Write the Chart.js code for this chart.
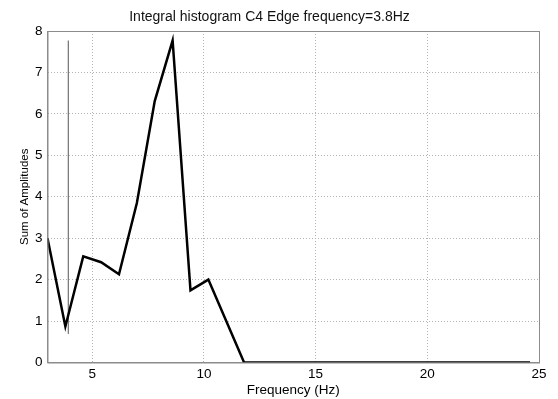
<!DOCTYPE html>
<html>
<head>
<meta charset="utf-8">
<script src="https://cdn.jsdelivr.net/npm/chart.js@4"></script>
<style>
  html, body { margin: 0; padding: 0; background: #fff; }
  #wrap { width: 558px; height: 399px; }
</style>
</head>
<body>
<div id="wrap"><canvas id="histChart" width="558" height="399"></canvas></div>
<script>
// Data
const freqs = [3.0, 3.8, 4.6, 5.4, 6.2, 7.0, 7.8, 8.6, 9.4, 10.2, 11.0, 11.8,
  12.6, 13.4, 14.2, 15.0, 15.8, 16.6, 17.4, 18.2, 19.0, 19.8, 20.6, 21.4, 22.2, 23.0, 23.8, 24.6];
const amplitudes = [3.0, 0.87, 2.56, 2.42, 2.13, 3.85, 6.31, 7.77, 1.74, 2.0, 1.0, 0,
  0, 0, 0, 0, 0, 0, 0, 0, 0, 0, 0, 0, 0, 0, 0, 0];
const edgeFreq = 3.93;
const edgeLow = 0.69;
const edgeHigh = 7.77;
const xTicks = [5, 10, 15, 20, 25];

const fontName = "'Liberation Sans', Arial, sans-serif";

// Draws the full box round the plot area (matlab style)
const boxPlugin = {
  id: 'box',
  afterDatasetsDraw(chart) {
    const a = chart.chartArea;
    const ctx = chart.ctx;
    ctx.save();
    ctx.strokeStyle = '#8c8c8c';
    ctx.lineWidth = 1;
    ctx.strokeRect(a.left + 0.5, a.top + 0.5, a.right - a.left, a.bottom - a.top);
    ctx.restore();
  }
};

const ctx = document.getElementById('histChart').getContext('2d');
const chart = new Chart(ctx, {
  type: 'line',
  data: {
    datasets: [
      {
        label: 'Sum of Amplitudes',
        data: freqs.map((f, i) => ({ x: f, y: amplitudes[i] })),
        borderColor: '#000',
        borderWidth: 2.5,
        pointRadius: 0,
        tension: 0,
        fill: false,
      },
      {
        label: 'Edge',
        data: [{ x: edgeFreq, y: edgeLow }, { x: edgeFreq, y: edgeHigh }],
        borderColor: '#555',
        borderWidth: 1,
        pointRadius: 0,
        fill: false,
      },
    ],
  },
  options: {
    responsive: false,
    animation: false,
    layout: { padding: { left: 0, right: 19, top: 0, bottom: 0 } },
    plugins: {
      legend: { display: false },
      tooltip: { enabled: false },
      title: {
        display: true,
        text: 'Integral histogram C4 Edge frequency=3.8Hz',
        color: '#111',
        font: { family: fontName, size: 14, weight: 'normal' },
        padding: { top: 8.5, bottom: 5.7 },
      },
    },
    scales: {
      x: {
        type: 'linear',
        min: 3,
        max: 25,
        afterBuildTicks: (axis) => { axis.ticks = xTicks.map((v) => ({ value: v })); },
        afterFit: (axis) => { axis.height = 36.5; },
        ticks: {
          color: '#000',
          font: { family: fontName, size: 13.5 },
          padding: 4,
          maxRotation: 0,
        },
        grid: {
          color: '#b4b4b4',
          lineWidth: 1,
          drawTicks: false,
        },
        // dotted grid lines
        border: { color: '#8c8c8c', dash: [1, 2] },
        title: {
          display: true,
          text: 'Frequency (Hz)',
          color: '#000',
          font: { family: fontName, size: 13.5 },
          padding: { top: 0, bottom: 1 },
        },
      },
      y: {
        min: 0,
        max: 8,
        afterFit: (axis) => { axis.width = 47.5; },
        ticks: {
          stepSize: 1,
          color: '#000',
          font: { family: fontName, size: 13.5 },
          padding: 5,
        },
        grid: {
          color: '#b4b4b4',
          lineWidth: 1,
          drawTicks: false,
        },
        border: { color: '#8c8c8c', dash: [1, 2] },
        title: {
          display: true,
          text: 'Sum of Amplitudes',
          color: '#000',
          font: { family: fontName, size: 11.5 },
          padding: { top: 18, bottom: 0 },
        },
      },
    },
  },
  plugins: [boxPlugin],
});
</script>
</body>
</html>
